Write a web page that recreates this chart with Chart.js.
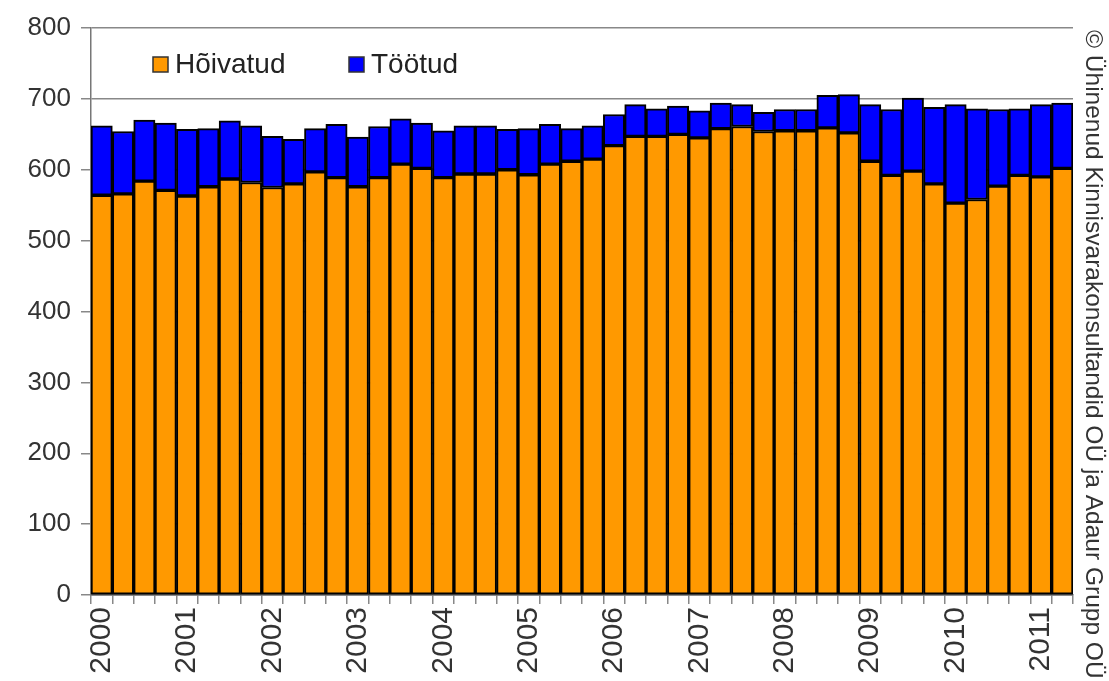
<!DOCTYPE html>
<html>
<head>
<meta charset="utf-8">
<script src="https://cdn.jsdelivr.net/npm/chart.js@4/dist/chart.umd.min.js"></script>
<style>
  html, body { margin: 0; padding: 0; background: #fff; }
  #wrap { width: 1109px; height: 681px; }
</style>
</head>
<body>
<div id="wrap"><canvas id="laborChart" width="1109" height="681"></canvas></div>
<script>
// kvartalid 2000 I - 2011 II
const quarters = [
  '2000-1','2000-2','2000-3','2000-4', '2001-1','2001-2','2001-3','2001-4',
  '2002-1','2002-2','2002-3','2002-4', '2003-1','2003-2','2003-3','2003-4',
  '2004-1','2004-2','2004-3','2004-4', '2005-1','2005-2','2005-3','2005-4',
  '2006-1','2006-2','2006-3','2006-4', '2007-1','2007-2','2007-3','2007-4',
  '2008-1','2008-2','2008-3','2008-4', '2009-1','2009-2','2009-3','2009-4',
  '2010-1','2010-2','2010-3','2010-4', '2011-1','2011-2'
];

// tuhat inimest
const employed = [
  564, 566, 584, 571, 563, 576, 587, 582, 575, 580, 597, 589,
  576, 589, 608, 602, 589, 594, 594, 600, 593, 608, 612, 615,
  634, 647, 647, 650, 645, 658, 661, 654, 655, 655, 659, 652,
  612, 592, 598, 580, 553, 558, 577, 592, 590, 602
];
const unemployed = [
  98, 88, 86, 95, 94, 82, 82, 80, 72, 63, 61, 75,
  70, 72, 64, 64, 66, 68, 68, 57, 65, 56, 46, 47,
  44, 45, 39, 40, 38, 36, 31, 27, 30, 30, 46, 54,
  80, 93, 103, 108, 139, 128, 108, 94, 102, 92
];

const yTicks = [0, 100, 200, 300, 400, 500, 600, 700, 800];
const copyright = '© Ühinenud Kinnisvarakonsultandid OÜ ja Adaur Grupp OÜ';

const FONT = "'Liberation Sans', Arial, sans-serif";

// legend inside plot + rotated copyright on the right
const overlay = {
  id: 'overlay',
  afterDraw(chart) {
    const ctx = chart.ctx;
    ctx.save();
    ctx.font = '28px ' + FONT;
    ctx.textBaseline = 'middle';
    ctx.textAlign = 'left';
    let x = 153;
    const y = 64;
    chart.data.datasets.forEach((ds) => {
      ctx.fillStyle = ds.backgroundColor;
      ctx.fillRect(x, y - 7, 15, 15);
      ctx.strokeStyle = '#333';
      ctx.lineWidth = 1.5;
      ctx.strokeRect(x, y - 7, 15, 15);
      ctx.fillStyle = '#222';
      ctx.fillText(ds.label, x + 22, y + 1);
      x += 196;
    });

    ctx.translate(1093, 30);
    ctx.rotate(Math.PI / 2);
    ctx.font = '24.5px ' + FONT;
    ctx.fillStyle = '#333';
    ctx.textBaseline = 'middle';
    ctx.fillText(copyright, 0, 0);
    ctx.restore();
  }
};

new Chart(document.getElementById('laborChart'), {
  type: 'bar',
  data: {
    labels: quarters,
    datasets: [
      { label: 'Hõivatud', data: employed, backgroundColor: '#FF9900' },
      { label: 'Töötud', data: unemployed, backgroundColor: '#0000FF' }
    ]
  },
  options: {
    responsive: false,
    animation: false,
    layout: { padding: { top: 28, right: 36, left: 0, bottom: 0 } },
    datasets: {
      bar: {
        categoryPercentage: 1,
        barPercentage: 1,
        borderColor: '#000',
        borderWidth: 2,
        borderSkipped: false
      }
    },
    plugins: {
      legend: { display: false },
      tooltip: { enabled: false }
    },
    scales: {
      x: {
        stacked: true,
        afterFit: (s) => { s.height = 86; },
        grid: { drawOnChartArea: false, drawTicks: true, tickLength: 9, color: '#888', lineWidth: 1.5 },
        border: { color: '#555', width: 1.5 },
        ticks: {
          autoSkip: false,
          maxRotation: 90,
          minRotation: 90,
          padding: 3,
          color: '#333',
          font: { family: FONT, size: 30 },
          callback: function (v) {
            const q = this.getLabelForValue(v).split('-');
            return q[1] === '1' ? q[0] : '';
          }
        }
      },
      y: {
        stacked: true,
        min: 0,
        max: 800,
        afterFit: (s) => { s.width = 91; },
        afterBuildTicks: (s) => { s.ticks = yTicks.map(v => ({ value: v })); },
        grid: { color: '#888', lineWidth: 1.5, tickLength: 10 },
        border: { color: '#777', width: 1.5 },
        ticks: {
          padding: 10,
          color: '#333',
          font: { family: FONT, size: 26 }
        }
      }
    }
  },
  plugins: [overlay]
});
</script>
</body>
</html>
